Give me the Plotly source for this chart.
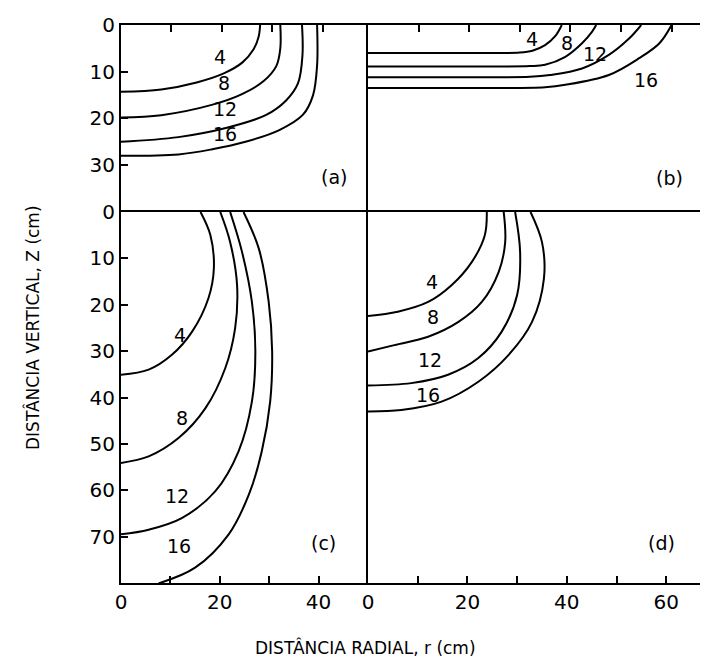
import plotly.graph_objects as go

# ---------------- data (r in cm, z in cm) ----------------
LEVELS = ["4", "8", "12", "16"]

# panel (a)
A4_R = [0, 8, 15, 20.5, 24.1, 26.3, 27.3, 27.6]
A4_Z = [14.3, 13.8, 12.3, 10.3, 8.0, 5.2, 2.5, 0]
A8_R = [0, 8, 18, 24, 28.3, 30.8, 31.6, 31.6]
A8_Z = [19.8, 19.3, 17.1, 14.8, 12.0, 8.8, 5.0, 0]
A12_R = [0, 11.4, 21, 28.7, 32.7, 35.1, 36.0, 35.9]
A12_Z = [25.0, 24.0, 22.0, 19.3, 16.2, 12.5, 6.4, 0]
A16_R = [0, 11.4, 18.1, 24.7, 31.4, 36.1, 38.1, 38.9, 38.9]
A16_Z = [28.0, 27.7, 26.6, 25.0, 22.5, 19.2, 15.0, 8.6, 0]

# panel (b)
B4_R = [0, 20, 30, 32.5, 35, 37, 38.3]
B4_Z = [6.0, 6.0, 5.9, 5.5, 4.3, 2.4, 0]
B8_R = [0, 20, 32, 35, 39, 42.3, 44.3, 45.1]
B8_Z = [8.9, 8.9, 8.8, 8.5, 6.8, 3.9, 1.4, 0]
B12_R = [0, 20, 32, 36, 42.3, 47.6, 51.6, 54]
B12_Z = [11.2, 11.2, 11.1, 10.7, 9.3, 6.4, 2.9, 0]
B16_R = [0, 20, 35, 39, 47.6, 53.6, 57.6, 60]
B16_Z = [13.5, 13.5, 13.3, 12.8, 10.7, 7.1, 3.9, 0]

# panel (c)
C4_R = [16.1, 18.1, 18.8, 17.7, 14.4, 10.3, 5.6, 0]
C4_Z = [0, 5, 12.2, 18.6, 25.8, 30.8, 34.0, 35.1]
C8_R = [20.1, 22.1, 23.5, 23.1, 21.1, 17.1, 11.7, 5.6, 0]
C8_Z = [0, 6.5, 15.8, 25.1, 33.7, 42.3, 48.7, 52.7, 54.1]
C12_R = [22.1, 24.5, 26.5, 27.2, 26.5, 23.8, 19.1, 12.3, 5.6, 0]
C12_Z = [0, 8.6, 19.4, 30.1, 40.9, 51.6, 60.2, 66.0, 68.5, 69.5]
C16_R = [24.8, 27.9, 29.9, 30.6, 30.2, 28.5, 25.9, 21.8, 15.0, 7.6]
C16_Z = [0, 7.9, 19.4, 30.1, 40.9, 51.6, 60.9, 69.5, 76.7, 80.1]

# panel (d)
D4_R = [23.9, 23.5, 20.9, 16.8, 12.1, 6.0, 0]
D4_Z = [0, 5, 10.75, 15.8, 19.4, 21.5, 22.4]
D8_R = [27.3, 27.6, 26.3, 22.9, 18.2, 12.1, 5.3, 0]
D8_Z = [0, 6.5, 12.9, 19.4, 23.7, 26.9, 28.7, 30.1]
D12_R = [29.6, 30.6, 30.0, 26.9, 22.2, 16.1, 8.7, 0]
D12_Z = [0, 8.6, 17.9, 25.8, 31.5, 35.1, 36.9, 37.4]
D16_R = [32.7, 35.0, 35.4, 33.0, 28.3, 22.2, 14.8, 6.7, 0]
D16_Z = [0, 6.5, 14.3, 23.7, 30.8, 36.6, 40.9, 42.7, 43.0]

# contour label positions (r, z) per panel
A_LAB_R = [19.7, 20.4, 20.7, 20.7]
A_LAB_Z = [6.8, 12.5, 18.0, 23.4]
B_LAB_R = [32.4, 39.3, 44.8, 55.0]
B_LAB_Z = [3.0, 3.8, 6.1, 11.8]
C_LAB_R = [12.0, 12.3, 11.3, 11.7]
C_LAB_Z = [26.5, 44.4, 61.3, 72.0]
D_LAB_R = [12.8, 13.1, 12.4, 12.1]
D_LAB_Z = [15.0, 22.6, 31.9, 39.4]

PANEL_TAGS = ["(a)", "(b)", "(c)", "(d)"]
TAG_R = [42.2, 59.6, 41.0, 59.0]
TAG_Z = [32.5, 32.8, 71.3, 71.3]

Z_TICKS_TOP = [0, 10, 20, 30]
Z_TICKS_BOT = [0, 10, 20, 30, 40, 50, 60, 70]
R_TICKS_L = [0, 10, 20, 30, 40]
R_TICKS_R = [0, 10, 20, 30, 40, 50, 60]

X_TITLE = "DISTÂNCIA RADIAL, r (cm)"
Y_TITLE = "DISTÂNCIA VERTICAL, Z (cm)"

# ---------------- figure ----------------
FONT = "DejaVu Sans"
OFF = 8            # page body margin of the html page
W, H = 708 - OFF, 666 - OFF
LW = 2


def px(x):
    return (x - OFF) / W


def py(y):
    return 1 - (y - OFF) / H


fig = go.Figure()

panels = [
    ("x", "y", [(A4_R, A4_Z), (A8_R, A8_Z), (A12_R, A12_Z), (A16_R, A16_Z)], A_LAB_R, A_LAB_Z),
    ("x2", "y2", [(B4_R, B4_Z), (B8_R, B8_Z), (B12_R, B12_Z), (B16_R, B16_Z)], B_LAB_R, B_LAB_Z),
    ("x3", "y3", [(C4_R, C4_Z), (C8_R, C8_Z), (C12_R, C12_Z), (C16_R, C16_Z)], C_LAB_R, C_LAB_Z),
    ("x4", "y4", [(D4_R, D4_Z), (D8_R, D8_Z), (D12_R, D12_Z), (D16_R, D16_Z)], D_LAB_R, D_LAB_Z),
]

annotations = []
for i, (xa, ya, curves, lr, lz) in enumerate(panels):
    for (r, z), lev in zip(curves, LEVELS):
        fig.add_trace(go.Scatter(
            x=r, y=z, xaxis=xa, yaxis=ya, mode="lines",
            line=dict(color="black", width=2, shape="spline", smoothing=1.0),
            showlegend=False, hoverinfo="skip", name=lev))
    for lev, rr, zz in zip(LEVELS, lr, lz):
        annotations.append(dict(x=rr, y=zz, xref=xa, yref=ya, text=lev,
                                showarrow=False, font=dict(size=19, color="black", family=FONT)))
    annotations.append(dict(x=TAG_R[i], y=TAG_Z[i], xref=xa, yref=ya, text=PANEL_TAGS[i],
                            showarrow=False, font=dict(size=19, color="black", family=FONT)))

annotations.append(dict(x=px(365), y=py(647), xref="paper", yref="paper", text=X_TITLE,
                        xanchor="center", yanchor="middle",
                        showarrow=False, font=dict(size=17, color="black", family=FONT)))
annotations.append(dict(x=px(32), y=py(328), xref="paper", yref="paper", text=Y_TITLE,
                        xanchor="center", yanchor="middle",
                        textangle=-90, showarrow=False, font=dict(size=17, color="black", family=FONT)))

# panel frames (reference pixels); adjacent frames share one drawn line
XL = [px(121), px(366)]
XR = [px(366 + LW), 1.0]
YT = [py(210), py(25)]
YB = [py(583), py(210 + LW)]

base = dict(showline=True, linecolor="black", linewidth=LW, mirror=True, showgrid=False,
            zeroline=False, ticks="inside", ticklen=7, tickwidth=1.5, tickcolor="black",
            automargin=False,
            tickfont=dict(size=20, color="black", family=FONT))

fig.update_layout(
    width=W, height=H, autosize=False,
    margin=dict(l=0, r=0, t=0, b=0, pad=0),
    paper_bgcolor="white", plot_bgcolor="white",
    annotations=annotations,
    xaxis=dict(base, domain=XL, range=[0, 48.6], side="top", anchor="y",
               tickvals=[10, 20, 30, 40], showticklabels=False),
    yaxis=dict(base, domain=YT, range=[39.6, 0], anchor="x",
               tickvals=Z_TICKS_TOP, ticktext=[str(v) for v in Z_TICKS_TOP]),
    xaxis2=dict(base, domain=XR, range=[0, 67.2], side="top", anchor="y2",
                tickvals=[10, 20, 30, 40, 50, 60], showticklabels=False),
    yaxis2=dict(base, domain=YT, range=[39.6, 0], anchor="x2", ticks="", showticklabels=False),
    xaxis3=dict(base, domain=XL, range=[0, 49.6], anchor="y3",
                tickvals=R_TICKS_L, ticktext=[str(v) if v % 20 == 0 else "" for v in R_TICKS_L]),
    yaxis3=dict(base, domain=YB, range=[80, 0], anchor="x3",
                tickvals=Z_TICKS_BOT, ticktext=[str(v) for v in Z_TICKS_BOT]),
    xaxis4=dict(base, domain=XR, range=[0, 68.4], anchor="y4",
                tickvals=R_TICKS_R, ticktext=[str(v) if v % 20 == 0 else "" for v in R_TICKS_R]),
    yaxis4=dict(base, domain=YB, range=[80, 0], anchor="x4", side="right",
                tickvals=Z_TICKS_BOT[1:], showticklabels=False),
)

fig.write_html("out.html")
